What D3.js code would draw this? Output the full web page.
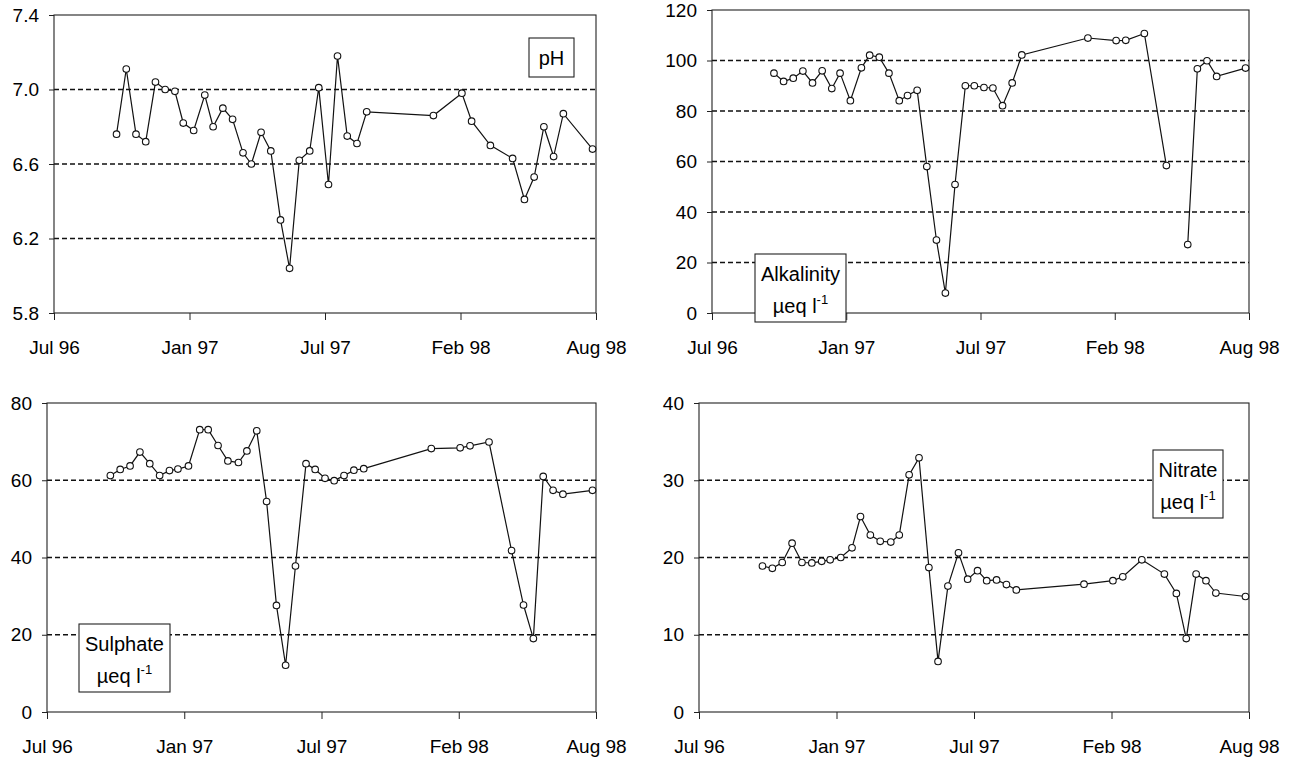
<!DOCTYPE html>
<html>
<head>
<meta charset="utf-8">
<script src="https://cdn.jsdelivr.net/npm/d3@7"></script>
<style>
  html, body { margin: 0; padding: 0; background: #fff; }
  svg { display: block; font-family: "Liberation Sans", Arial, sans-serif; }
</style>
</head>
<body>
<svg id="chart" width="1299" height="765"></svg>
<script>
// Sampling dates shared by all four determinands
const sampleDates = [
  "1996-09-29", "1996-10-13", "1996-10-27", "1996-11-10", "1996-11-24", "1996-12-08",
  "1996-12-22", "1997-01-03", "1997-01-18", "1997-02-03", "1997-02-15", "1997-03-01",
  "1997-03-15", "1997-03-30", "1997-04-11", "1997-04-25", "1997-05-09", "1997-05-23",
  "1997-06-05", "1997-06-19", "1997-07-04", "1997-07-17", "1997-07-31", "1997-08-13",
  "1997-08-27", "1997-09-10", "1997-09-24", "1997-12-29", "1998-02-08", "1998-02-22",
  "1998-03-21", "1998-04-22", "1998-05-09", "1998-05-23", "1998-06-06", "1998-06-20",
  "1998-07-04", "1998-08-15"
];

const pH = [
  6.76, 7.11, 6.76, 6.72, 7.04, 7.00, 6.99, 6.82, 6.78, 6.97, 6.80, 6.90, 6.84,
  6.66, 6.60, 6.77, 6.67, 6.30, 6.04, 6.62, 6.67, 7.01, 6.49, 7.18, 6.75, 6.71,
  6.88, 6.86, 6.98, 6.83, 6.70, 6.63, 6.41, 6.53, 6.80, 6.64, 6.87, 6.68
];

// µeq l-1; null where no sample was analysed
const alkalinity = [
  95.0, 91.7, 93.0, 95.8, 91.1, 95.9, 88.9, 95.0, 84.1, 97.1, 102.1, 101.3, 95.0,
  84.1, 86.1, 88.2, 58.0, 28.9, 7.9, 50.9, 90.0, 90.0, 89.3, 89.1, 82.1, 91.1,
  102.2, 108.9, 107.9, 108.0, 110.7, 58.4, null, 27.1, 96.7, 99.9, 93.7, 97.0
];

const sulphate = [
  61.2, 62.8, 63.7, 67.3, 64.3, 61.2, 62.5, 62.9, 63.7, 73.1, 73.1, 69.0, 65.0,
  64.6, 67.6, 72.8, 54.5, 27.6, 12.1, 37.8, 64.3, 62.8, 60.5, 59.9, 61.2, 62.6,
  63.0, 68.2, 68.4, 68.9, 69.9, 41.8, 27.7, 19.0, 61.0, 57.4, 56.4, 57.4
];

const nitrate = [
  18.9, 18.6, 19.35, 21.85, 19.35, 19.3, 19.5, 19.7, 20.0, 21.25, 25.3, 22.9, 22.1,
  22.0, 22.9, 30.7, 32.9, 18.7, 6.55, 16.3, 20.6, 17.2, 18.3, 17.0, 17.1, 16.5,
  15.8, 16.55, 17.0, 17.5, 19.7, 17.85, 15.35, 9.5, 17.85, 17.0, 15.4, 14.95
];

// Time axis: start/end and labelled tick dates
const xDomainDates = ["1996-07-01", "1998-08-20"];
const xTickDates = ["1996-07-01", "1997-01-12", "1997-07-26", "1998-02-06", "1998-08-20"];
const xTickLabels = ["Jul 96", "Jan 97", "Jul 97", "Feb 98", "Aug 98"];

// Value axes
const pHTicks = [5.8, 6.2, 6.6, 7.0, 7.4];
const alkalinityTicks = [0, 20, 40, 60, 80, 100, 120];
const sulphateTicks = [0, 20, 40, 60, 80];
const nitrateTicks = [0, 10, 20, 30, 40];

const parse = d3.timeParse("%Y-%m-%d");
const dates = sampleDates.map(parse);
const xDomain = xDomainDates.map(parse);
const xTicks = xTickDates.map(parse);

const panels = [
  { values: pH, ticks: pHTicks, fmt: d3.format(".1f"),
    left: 54, right: 596, top: 15, bottom: 313,
    title: "pH", unit: false, box: { x: 529, y: 38, w: 45, h: 39 } },
  { values: alkalinity, ticks: alkalinityTicks, fmt: d3.format("d"),
    left: 712, right: 1249, top: 10, bottom: 313,
    title: "Alkalinity", unit: true, box: { x: 755, y: 254, w: 91, h: 68 } },
  { values: sulphate, ticks: sulphateTicks, fmt: d3.format("d"),
    left: 47, right: 596, top: 403, bottom: 712,
    title: "Sulphate", unit: true, box: { x: 79, y: 624, w: 91, h: 68 } },
  { values: nitrate, ticks: nitrateTicks, fmt: d3.format("d"),
    left: 699, right: 1249, top: 403, bottom: 712,
    title: "Nitrate", unit: true, box: { x: 1153, y: 450, w: 70, h: 68 } }
];

const svg = d3.select("#chart");

panels.forEach(p => {
  const x = d3.scaleTime().domain(xDomain).range([p.left, p.right]);
  const y = d3.scaleLinear()
    .domain(d3.extent(p.ticks))
    .range([p.bottom, p.top]);

  const g = svg.append("g");

  // dashed horizontal gridlines at interior ticks
  g.append("g")
    .selectAll("line")
    .data(p.ticks.slice(1, -1))
    .join("line")
    .attr("x1", p.left).attr("x2", p.right)
    .attr("y1", d => y(d)).attr("y2", d => y(d))
    .attr("stroke", "#111")
    .attr("stroke-width", 1.3)
    .attr("stroke-dasharray", "5,3");

  // plot frame
  g.append("rect")
    .attr("x", p.left).attr("y", p.top)
    .attr("width", p.right - p.left).attr("height", p.bottom - p.top)
    .attr("fill", "none").attr("stroke", "#222").attr("stroke-width", 1.1);

  // y axis
  const yAxis = g.append("g")
    .attr("transform", `translate(${p.left},0)`)
    .call(d3.axisLeft(y).tickValues(p.ticks).tickFormat(p.fmt).tickSize(5).tickPadding(10));
  yAxis.select(".domain").remove();
  yAxis.selectAll("text").attr("font-size", 19).attr("fill", "#000")
    .attr("font-family", "Liberation Sans, Arial, sans-serif");
  yAxis.selectAll("line").attr("stroke", "#222");

  // x axis
  const xAxis = g.append("g")
    .attr("transform", `translate(0,${p.bottom})`)
    .call(d3.axisBottom(x).tickValues(xTicks)
      .tickFormat((d, i) => xTickLabels[i]).tickSize(7).tickPadding(21));
  xAxis.select(".domain").remove();
  xAxis.selectAll("text").attr("font-size", 19).attr("fill", "#000")
    .attr("font-family", "Liberation Sans, Arial, sans-serif");
  xAxis.selectAll("line").attr("stroke", "#222");

  // series line (gaps where a value is missing)
  const pts = dates.map((d, i) => ({ date: d, v: p.values[i] }));
  const line = d3.line()
    .defined(d => d.v != null)
    .x(d => x(d.date))
    .y(d => y(d.v));
  g.append("path")
    .datum(pts)
    .attr("d", line)
    .attr("fill", "none")
    .attr("stroke", "#111")
    .attr("stroke-width", 1.2);

  // open circle markers
  g.append("g")
    .selectAll("circle")
    .data(pts.filter(d => d.v != null))
    .join("circle")
    .attr("cx", d => x(d.date))
    .attr("cy", d => y(d.v))
    .attr("r", 3.3)
    .attr("fill", "#fff")
    .attr("stroke", "#111")
    .attr("stroke-width", 1.1);

  // label box
  const b = p.box;
  const lg = g.append("g");
  lg.append("rect")
    .attr("x", b.x).attr("y", b.y).attr("width", b.w).attr("height", b.h)
    .attr("fill", "#fff").attr("stroke", "#222").attr("stroke-width", 1.1);
  const cx = b.x + b.w / 2;
  lg.append("text")
    .attr("x", cx).attr("y", b.y + 27)
    .attr("text-anchor", "middle").attr("font-size", 20)
    .text(p.title);
  if (p.unit) {
    const t2 = lg.append("text")
      .attr("x", cx).attr("y", b.y + 59)
      .attr("text-anchor", "middle").attr("font-size", 20);
    t2.append("tspan").text("µeq l");
    t2.append("tspan").attr("dy", -9).attr("font-size", 13).text("-1");
  }
});
</script>
</body>
</html>
